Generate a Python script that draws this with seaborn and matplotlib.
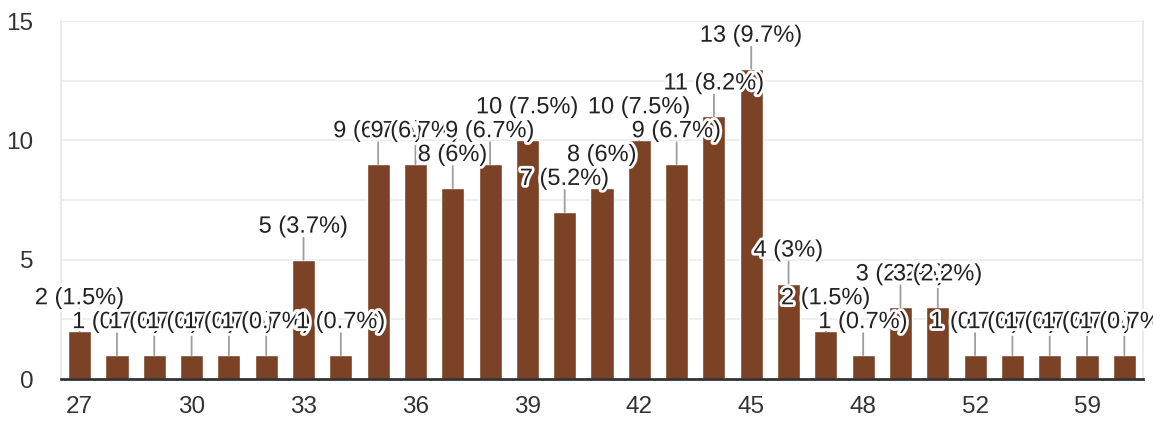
import matplotlib
matplotlib.use("Agg")
import matplotlib.pyplot as plt
import matplotlib.patheffects as pe
import seaborn as sns
import pandas as pd

# ---- data ----
ages = ["27", "28", "29", "30", "31", "32", "33", "34", "35", "36",
        "37", "38", "39", "40", "41", "42", "43", "44", "45", "46",
        "47", "48", "49", "50", "52", "54", "56", "59", "60"]
counts = [2, 1, 1, 1, 1, 1, 5, 1, 9, 9,
          8, 9, 10, 7, 8, 10, 9, 11, 13, 4,
          2, 1, 3, 3, 1, 1, 1, 1, 1]
shown_ticks = ["27", "30", "33", "36", "39", "42", "45", "48", "52", "59"]
y_ticks = [0, 5, 10, 15]

total = sum(counts)

def fmt_pct(c):
    s = f"{100 * c / total:.1f}".rstrip("0").rstrip(".")
    return f"{c} ({s}%)"

df = pd.DataFrame({"age": ages, "count": counts})

sns.set_theme(style="white")
plt.rcParams["font.family"] = ["Liberation Sans", "DejaVu Sans"]

fig = plt.figure(figsize=(11.53, 4.21), dpi=100)
ax = fig.add_axes([61 / 1153, 42 / 421, (1143 - 61) / 1153, (379 - 21) / 421])

BAR = "#7b4226"
sns.barplot(data=df, x="age", y="count", order=ages, color=BAR,
            saturation=1, width=0.62, ax=ax, zorder=2)

ax.set_ylim(0, 15)
ax.set_xlim(-0.5, len(ages) - 0.5)

# grid lines
for g in [2.5, 5, 7.5, 10, 12.5, 15]:
    ax.axhline(g, color="#ebebeb", lw=1.2, zorder=0)

ax.set_yticks(y_ticks)
ax.set_yticklabels([str(t) for t in y_ticks])
tick_pos = [ages.index(t) for t in shown_ticks]
ax.set_xticks(tick_pos)
ax.set_xticklabels(shown_ticks)
ax.tick_params(axis="both", length=0, labelsize=17.5, colors="#333333")
ax.tick_params(axis="y", pad=20)
ax.tick_params(axis="x", pad=12)
ax.set_xlabel("")
ax.set_ylabel("")

for side in ["left", "right"]:
    ax.spines[side].set_color("#e6e6e6")
    ax.spines[side].set_linewidth(1.2)
ax.spines["top"].set_visible(False)
ax.spines["bottom"].set_color("#333333")
ax.spines["bottom"].set_linewidth(2)
ax.spines["bottom"].set_zorder(5)

# annotations: stem + label
px = 72 / 100  # points per pixel
for i, c in enumerate(counts):
    ax.annotate("", xy=(i, c), xytext=(0, 22 * px), textcoords="offset points",
                arrowprops=dict(arrowstyle="-", color="#9e9e9e", lw=1.3,
                                shrinkA=0, shrinkB=0), zorder=3)
for i, c in enumerate(counts):
    ax.annotate(fmt_pct(c), xy=(i, c), xytext=(0, 33 * px),
                textcoords="offset points", ha="center", va="center",
                fontsize=17, color="#222222", zorder=4 + i * 0.01,
                path_effects=[pe.withStroke(linewidth=4, foreground="white")],
                annotation_clip=False)

fig.savefig("out.png", dpi=100)
